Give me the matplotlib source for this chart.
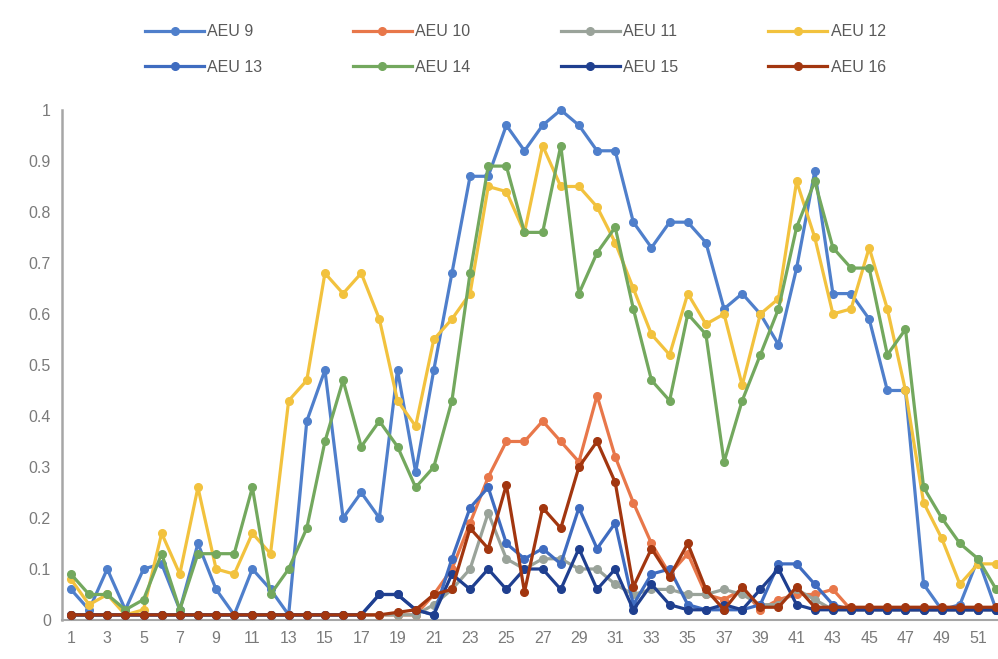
import numpy as np
import matplotlib.pyplot as plt

plt.rcParams['font.family'] = ['Liberation Sans', 'DejaVu Sans']

weeks = list(range(1, 53))

aeu9 = [0.06, 0.02, 0.10, 0.02, 0.10, 0.11, 0.02, 0.15, 0.06, 0.01,
        0.10, 0.06, 0.01, 0.39, 0.49, 0.20, 0.25, 0.20, 0.49, 0.29,
        0.49, 0.68, 0.87, 0.87, 0.97, 0.92, 0.97, 1.00, 0.97, 0.92,
        0.92, 0.78, 0.73, 0.78, 0.78, 0.74, 0.61, 0.64, 0.60, 0.54,
        0.69, 0.88, 0.64, 0.64, 0.59, 0.45, 0.45, 0.07, 0.02, 0.03,
        0.12, 0.02]
aeu10 = [0.01] * 20 + [
        0.05, 0.10, 0.19, 0.28, 0.35, 0.35, 0.39, 0.35, 0.31, 0.44,
        0.32, 0.23, 0.15, 0.09, 0.13, 0.05, 0.04, 0.06, 0.02, 0.04,
        0.05, 0.05, 0.06, 0.02, 0.02, 0.02, 0.02, 0.02, 0.02, 0.02,
        0.02, 0.02]
aeu11 = [0.01] * 20 + [
        0.03, 0.06, 0.10, 0.21, 0.12, 0.10, 0.12, 0.12, 0.10, 0.10,
        0.07, 0.05, 0.06, 0.06, 0.05, 0.05, 0.06, 0.05, 0.03, 0.03,
        0.06, 0.04, 0.02, 0.02, 0.02, 0.02, 0.02, 0.02, 0.02, 0.02,
        0.02, 0.02]
aeu12 = [0.08, 0.03, 0.05, 0.01, 0.02, 0.17, 0.09, 0.26, 0.10, 0.09,
         0.17, 0.13, 0.43, 0.47, 0.68, 0.64, 0.68, 0.59, 0.43, 0.38,
         0.55, 0.59, 0.64, 0.85, 0.84, 0.76, 0.93, 0.85, 0.85, 0.81,
         0.74, 0.65, 0.56, 0.52, 0.64, 0.58, 0.60, 0.46, 0.60, 0.63,
         0.86, 0.75, 0.60, 0.61, 0.73, 0.61, 0.45, 0.23, 0.16, 0.07,
         0.11, 0.11]
aeu13 = [0.01] * 17 + [
         0.05, 0.05, 0.02, 0.01, 0.12, 0.22, 0.26, 0.15, 0.12, 0.14,
         0.11, 0.22, 0.14, 0.19, 0.03, 0.09, 0.10, 0.03, 0.02, 0.02,
         0.02, 0.03, 0.11, 0.11, 0.07, 0.03, 0.02, 0.02, 0.02, 0.02,
         0.02, 0.02, 0.02, 0.02, 0.02]
aeu14 = [0.09, 0.05, 0.05, 0.02, 0.04, 0.13, 0.02, 0.13, 0.13, 0.13,
         0.26, 0.05, 0.10, 0.18, 0.35, 0.47, 0.34, 0.39, 0.34, 0.26,
         0.30, 0.43, 0.68, 0.89, 0.89, 0.76, 0.76, 0.93, 0.64, 0.72,
         0.77, 0.61, 0.47, 0.43, 0.60, 0.56, 0.31, 0.43, 0.52, 0.61,
         0.77, 0.86, 0.73, 0.69, 0.69, 0.52, 0.57, 0.26, 0.20, 0.15,
         0.12, 0.06]
aeu15 = [0.01] * 17 + [
         0.05, 0.05, 0.02, 0.01, 0.09, 0.06, 0.10, 0.06, 0.10, 0.10,
         0.06, 0.14, 0.06, 0.10, 0.02, 0.07, 0.03, 0.02, 0.02, 0.03,
         0.02, 0.06, 0.10, 0.03, 0.02, 0.02, 0.02, 0.02, 0.02, 0.02,
         0.02, 0.02, 0.02, 0.02, 0.02]
aeu16 = [0.01] * 18 + [
         0.015, 0.02, 0.05, 0.06, 0.18, 0.14, 0.265, 0.055, 0.22, 0.18,
         0.30, 0.35, 0.27, 0.065, 0.14, 0.085, 0.15, 0.06, 0.02, 0.065,
         0.025, 0.025, 0.065, 0.025, 0.025, 0.025, 0.025, 0.025, 0.025,
         0.025, 0.025, 0.025, 0.025, 0.025]

names = ['AEU 9', 'AEU 10', 'AEU 11', 'AEU 12',
         'AEU 13', 'AEU 14', 'AEU 15', 'AEU 16']
series = [aeu9, aeu10, aeu11, aeu12, aeu13, aeu14, aeu15, aeu16]
colors = ['#4F7FCB', '#E8774A', '#9AA39A', '#F2C23E',
          '#3F6CC0', '#73A85E', '#1F3F8F', '#A2360F']

fig = plt.figure(figsize=(9.98, 6.59), dpi=100)
ax = fig.add_axes([0.062, 0.0592, 0.938, 0.7739])

lines = []
for name, vals, c in zip(names, series, colors):
    ln, = ax.plot(weeks, vals, color=c, linewidth=2.3, marker='o',
                  markersize=5.5, label=name, clip_on=False)
    lines.append(ln)

ax.set_xlim(0.5, 52.1)
ax.set_ylim(0, 1.0)
ax.set_xticks(range(1, 53, 2))
ax.set_yticks(np.round(np.arange(0, 1.01, 0.1), 1))
ax.set_yticklabels(['0', '0.1', '0.2', '0.3', '0.4', '0.5',
                    '0.6', '0.7', '0.8', '0.9', '1'])
ax.tick_params(length=0, labelsize=11.5, colors='#7A7A7A', pad=8)

for side in ['top', 'right']:
    ax.spines[side].set_visible(False)
ax.spines['left'].set_color('#A6A6A6')
ax.spines['left'].set_linewidth(1.8)
ax.spines['bottom'].set_color('#A6A6A6')
ax.spines['bottom'].set_linewidth(1.5)
ax.spines['bottom'].set_zorder(0)

# legend fills column-first, so reorder to read across rows
order = [0, 4, 1, 5, 2, 6, 3, 7]
fig.legend(handles=[lines[i] for i in order],
           labels=[names[i] for i in order], ncol=4, loc='upper left',
           bbox_to_anchor=(0.131, 0.985), frameon=False, numpoints=1,
           fontsize=11.5, handlelength=3.7, handletextpad=0.2,
           columnspacing=5.65, labelspacing=1.3, labelcolor='#595959')

fig.savefig('out.png', dpi=100)
